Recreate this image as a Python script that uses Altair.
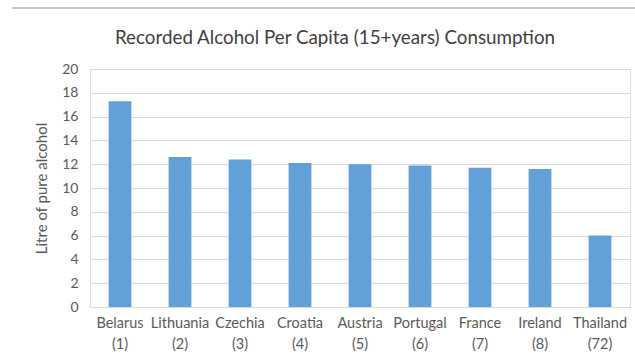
import altair as alt
import pandas as pd

countries = ["Belarus", "Lithuania", "Czechia", "Croatia", "Austria", "Portugal", "France", "Ireland", "Thailand"]
ranks = ["(1)", "(2)", "(3)", "(4)", "(5)", "(6)", "(7)", "(8)", "(72)"]
values = [17.3, 12.6, 12.4, 12.1, 12.0, 11.9, 11.7, 11.6, 6.0]
y_ticks = [0, 2, 4, 6, 8, 10, 12, 14, 16, 18, 20]
title_text = "Recorded Alcohol Per Capita (15+years) Consumption"

df = pd.DataFrame({
    "label": [f"{c}\n{r}" for c, r in zip(countries, ranks)],
    "value": values,
})

FONT = "Lato"
TXT = "#595959"

bars = alt.Chart(df).mark_bar(color="#62a0d8").encode(
    x=alt.X("label:N", sort=None, title=None,
            scale=alt.Scale(paddingInner=0.62, paddingOuter=0.31),
            axis=alt.Axis(labelExpr="split(datum.label, '\\n')", labelAngle=0,
                          labelFont=FONT, labelFontSize=14.5, labelColor=TXT,
                          labelLineHeight=21, labelPadding=9, ticks=False,
                          domain=False, grid=False)),
    y=alt.Y("value:Q", title="Litre of pure alcohol",
            scale=alt.Scale(domain=[0, 20], nice=False),
            axis=alt.Axis(values=y_ticks, labelFont=FONT, labelFontSize=14,
                          labelColor=TXT, ticks=False, domain=False,
                          gridColor="#d9d9d9", gridWidth=1, labelPadding=12,
                          titleFont=FONT, titleFontSize=15, titleFontWeight="normal",
                          titleColor=TXT, titlePadding=12)),
)

border = alt.Chart(df).mark_rule(color="#c8c8c8", strokeWidth=2).encode(
    x=alt.value(-78), x2=alt.value(545), y=alt.value(-61)
)

title = alt.Chart(pd.DataFrame({"t": [title_text]})).mark_text(
    font=FONT, fontSize=18.8, color="#404040", align="center", baseline="middle"
).encode(text="t:N", x=alt.value(245), y=alt.value(-31))

chart = alt.layer(border, bars, title).properties(
    width=540, height=238,
    autosize=alt.AutoSizeParams(type="none"),
    padding={"left": 90, "top": 69, "right": 5, "bottom": 53},
).configure_view(stroke=None).configure(background="white")

chart.save("out.html", embed_options={"renderer": "svg", "actions": False})
